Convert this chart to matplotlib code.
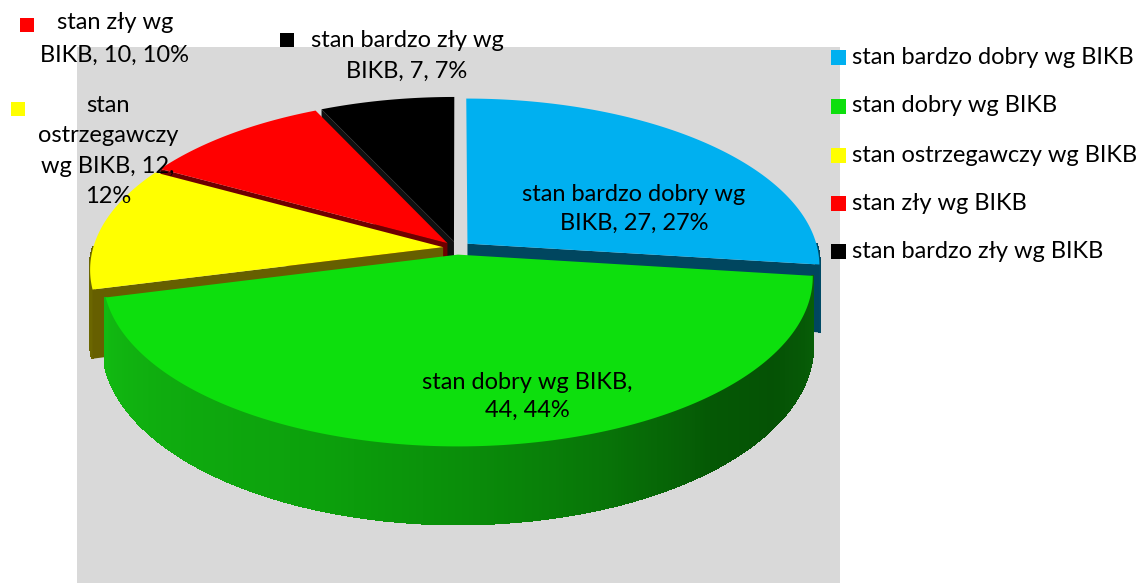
import numpy as np
import matplotlib
matplotlib.use("Agg")
import matplotlib.pyplot as plt
from matplotlib.patches import Polygon, Rectangle

plt.rcParams['font.family'] = ['Lato', 'DejaVu Sans']

# ---- data ----
categories = ["stan bardzo dobry wg BIKB", "stan dobry wg BIKB",
              "stan ostrzegawczy wg BIKB", "stan zły wg BIKB",
              "stan bardzo zły wg BIKB"]
values = [27, 44, 12, 10, 7]
percents = ["27%", "44%", "12%", "10%", "7%"]
top_colors = ["#00B0F0", "#0DDF0D", "#FFFF00", "#FF0000", "#000000"]
cut_colors = ["#00465F", "#0A8A0A", "#665F00", "#6E0000", "#111111"]
wall_colors = ["#004A66", None, "#6B6600", "#700000", "#111111"]

# ---- geometry of the pseudo-3D pie (pixel space) ----
W, Hpx = 1146, 583
cx, cy = 457, 248
A, B = 350, 165
k = 0.13
T = 67
explode = 0.04

fig = plt.figure(figsize=(W / 100, Hpx / 100), dpi=100)
ax = fig.add_axes([0, 0, 1, 1])
ax.set_xlim(0, W)
ax.set_ylim(Hpx, 0)
ax.axis("off")

ax.add_patch(Rectangle((77, 47), 763, 540, facecolor="#D9D9D9", edgecolor="none", zorder=0))


def proj(u, v, z):
    s = 1.0 / (1.0 - k * v)
    return cx + A * u * s, cy + (B * v + T * z) * s


def disc(theta_deg, r, du, dv):
    t = np.radians(theta_deg)
    return r * np.sin(t) + du, -r * np.cos(t) + dv


def green_wall_color(theta):
    pts = [(95, (8, 98, 8)), (125, (5, 82, 5)), (140, (5, 88, 5)), (160, (8, 118, 8)),
           (180, (10, 142, 10)), (200, (12, 160, 12)), (230, (15, 172, 15)), (260, (18, 188, 18))]
    xs = [p[0] for p in pts]
    c = [np.interp(theta, xs, [p[1][i] for p in pts]) / 255 for i in range(3)]
    return tuple(c)


total = sum(values)
bounds = np.concatenate([[0], np.cumsum(values)]) / total * 360.0
slices = []
for i, val in enumerate(values):
    t1, t2 = bounds[i], bounds[i + 1]
    tm = 0.5 * (t1 + t2)
    du, dv = disc(tm, explode, 0, 0)
    depth = -np.cos(np.radians(tm))
    slices.append((depth, i, t1, t2, du, dv))

slices.sort()
zo = 2
for depth, i, t1, t2, du, dv in slices:
    # outer wall (front-facing part, theta in 90..270)
    lo, hi = max(t1, 90), min(t2, 270)
    if hi > lo:
        ths = np.linspace(lo, hi, int((hi - lo) * 2) + 2)
        for a, b in zip(ths[:-1], ths[1:]):
            ua, va = disc(a, 1, du, dv)
            ub, vb = disc(b, 1, du, dv)
            quad = [proj(ua, va, 0), proj(ub, vb, 0), proj(ub, vb, 1), proj(ua, va, 1)]
            col = green_wall_color(0.5 * (a + b)) if wall_colors[i] is None else wall_colors[i]
            ax.add_patch(Polygon(quad, closed=True, facecolor=col, edgecolor=col, lw=1.5,
                                 antialiased=False, zorder=zo))
        zo += 1
    # cut faces that face the viewer
    for th, nv in ((t1, -np.sin(np.radians(t1))), (t2, np.sin(np.radians(t2)))):
        if nv > 0.05:
            uo, vo = disc(th, 1, du, dv)
            quad = [proj(du, dv, 0), proj(uo, vo, 0), proj(uo, vo, 1), proj(du, dv, 1)]
            ax.add_patch(Polygon(quad, closed=True, facecolor=cut_colors[i], edgecolor="none", zorder=zo))
            zo += 1
    # top face
    ths = np.linspace(t1, t2, 200)
    pts = [proj(du, dv, 0)] + [proj(*disc(t, 1, du, dv), 0) for t in ths]
    ax.add_patch(Polygon(pts, closed=True, facecolor=top_colors[i], edgecolor="none", zorder=zo))
    zo += 1

fs = 17
# data labels
ax.text(634, 209, f"stan bardzo dobry wg\nBIKB, {values[0]}, {percents[0]}",
        ha="center", va="center", fontsize=fs, linespacing=1.45, zorder=50)
ax.text(527, 396, f"stan dobry wg BIKB,\n{values[1]}, {percents[1]}",
        ha="center", va="center", fontsize=fs, linespacing=1.4, zorder=50)
ax.text(108, 151, f"stan\nostrzegawczy\nwg BIKB, {values[2]},\n{percents[2]}",
        ha="center", va="center", fontsize=fs, linespacing=1.55, zorder=50)
ax.add_patch(Rectangle((11, 102), 14, 14, facecolor=top_colors[2], edgecolor="none", zorder=50))
ax.text(115, 39, f"stan zły wg\nBIKB, {values[3]}, {percents[3]}",
        ha="center", va="center", fontsize=fs, linespacing=1.65, zorder=50)
ax.add_patch(Rectangle((20, 18), 14, 14, facecolor=top_colors[3], edgecolor="none", zorder=50))
ax.text(407, 56, f"stan bardzo zły wg\nBIKB, {values[4]}, {percents[4]}",
        ha="center", va="center", fontsize=fs, linespacing=1.55, zorder=50)
ax.add_patch(Rectangle((280, 33), 14, 14, facecolor=top_colors[4], edgecolor="none", zorder=50))

# legend
leg_y = [57, 106, 155, 203, 251]
for i, y in enumerate(leg_y):
    ax.add_patch(Rectangle((831, y - 7.5), 15, 15, facecolor=top_colors[i], edgecolor="none", zorder=50))
    ax.text(852, y, categories[i], ha="left", va="center", fontsize=fs, zorder=50)

fig.savefig("out.png", dpi=100)
